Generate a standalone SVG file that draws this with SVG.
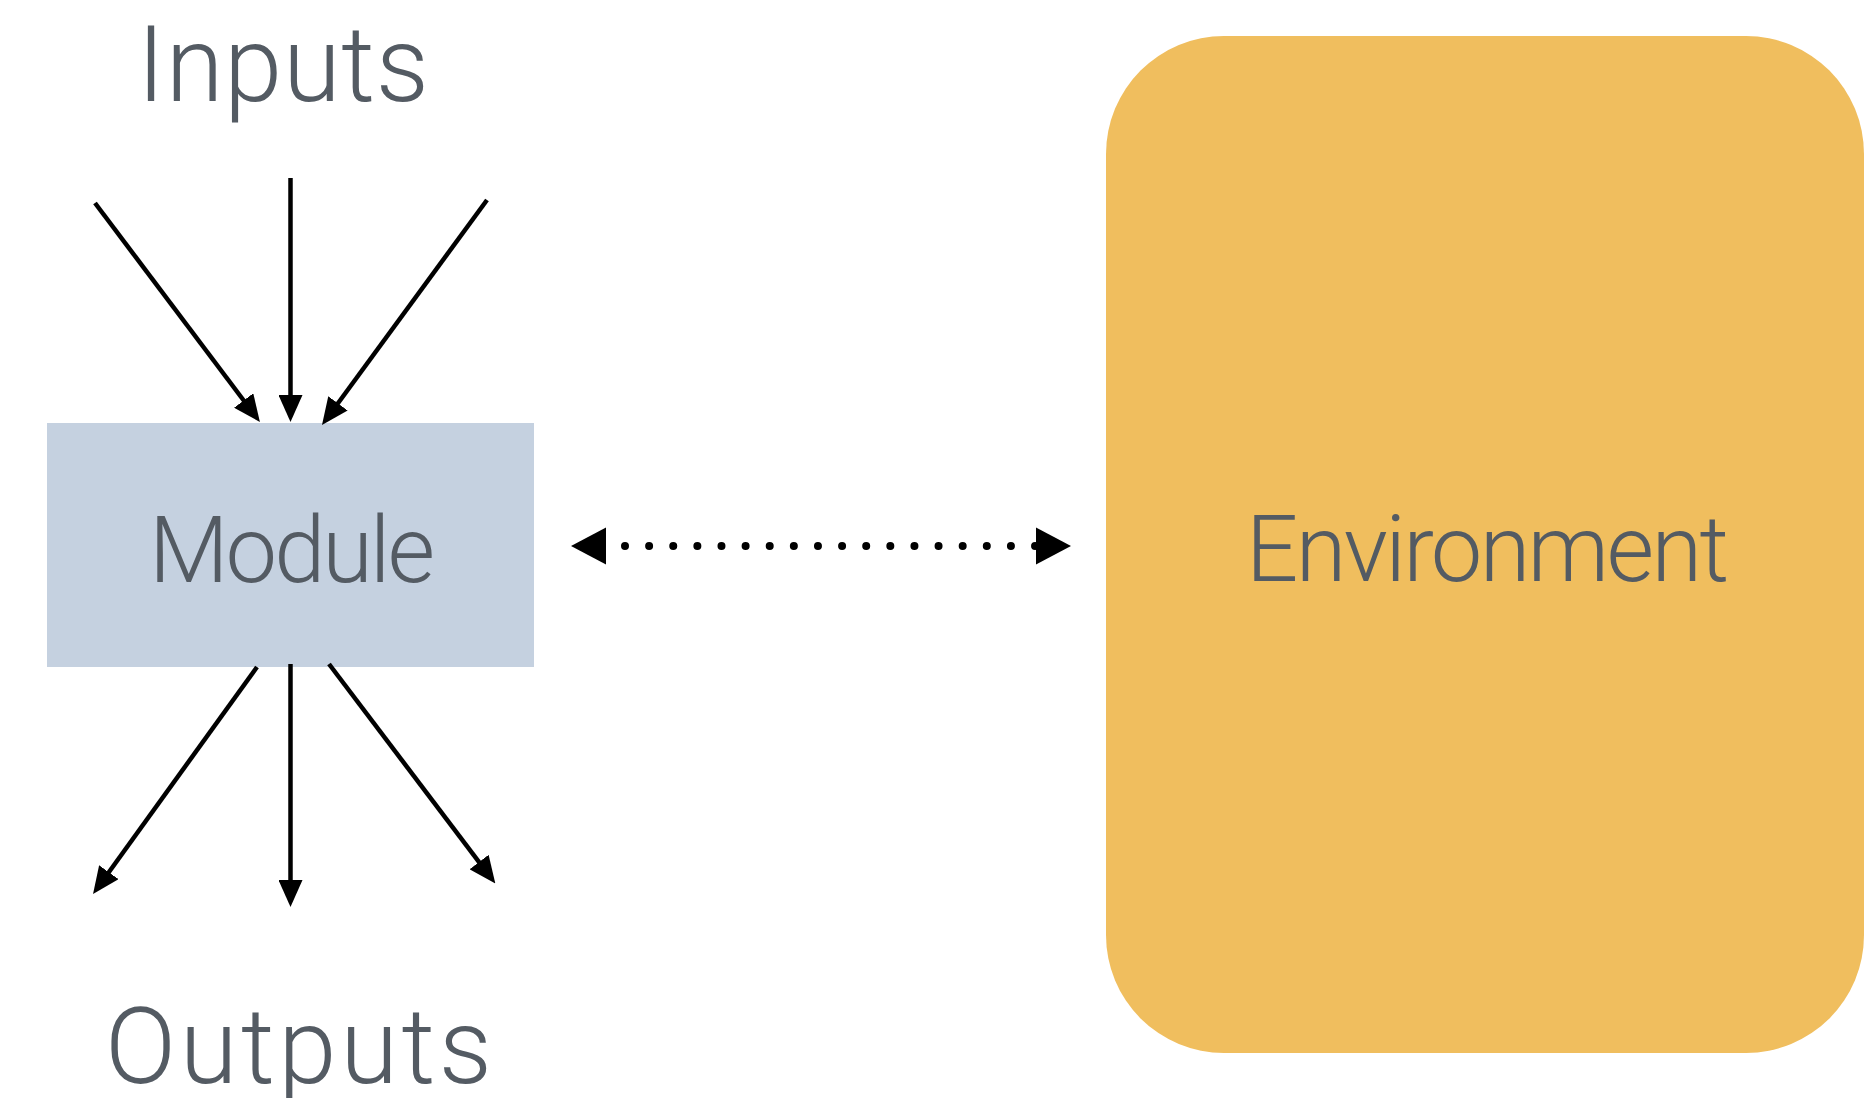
<svg xmlns="http://www.w3.org/2000/svg" width="1870" height="1098" viewBox="0 0 1870 1098">
  <style>
    .label { font-family: Roboto, "Liberation Sans", sans-serif; font-weight: 300; fill: #545B63; }
    .flow { stroke: #000; stroke-width: 4.5; fill: none; marker-end: url(#head); }
    .dots { stroke: #000; stroke-width: 8; stroke-linecap: round; stroke-dasharray: 0 24.12; fill: none; }
    .bighead { fill: #000; }
  </style>
  <defs>
    <marker id="head" markerUnits="userSpaceOnUse" markerWidth="27" markerHeight="24" refX="17" refY="12" orient="auto">
      <path d="M0,0 L27,12 L0,24 z" fill="#000"/>
    </marker>
  </defs>

  <rect width="1870" height="1098" fill="#fff"/>

  <text class="label" x="137" y="101" font-size="105" textLength="292" lengthAdjust="spacing">Inputs</text>
  <text class="label" x="105" y="1083" font-size="105" textLength="387" lengthAdjust="spacing">Outputs</text>

  <g id="module">
    <rect x="47" y="423" width="487" height="244" fill="#C5D1E0"/>
    <text class="label" x="149" y="582" font-size="92" textLength="286" lengthAdjust="spacing">Module</text>
  </g>

  <g id="environment">
    <rect x="1106" y="36" width="758" height="1017" rx="118" ry="118" fill="#F0BE5E"/>
    <text class="label" x="1246" y="581" font-size="92" textLength="483" lengthAdjust="spacing">Environment</text>
  </g>

  <g id="connectors">
    <!-- inputs into the module -->
    <line class="flow" x1="95" y1="203" x2="253.9" y2="414"/>
    <line class="flow" x1="290.5" y1="178" x2="290.5" y2="412"/>
    <line class="flow" x1="487" y1="200" x2="327.9" y2="417"/>
    <!-- outputs from the module -->
    <line class="flow" x1="257" y1="667" x2="98.9" y2="886"/>
    <line class="flow" x1="290.5" y1="664" x2="290.5" y2="897"/>
    <line class="flow" x1="329" y1="664" x2="489.3" y2="875.6"/>
    <!-- two-way exchange with the environment -->
    <line class="dots" x1="625" y1="546" x2="1036" y2="546"/>
    <polygon class="bighead" points="571,546 606,527.5 606,564.5"/>
    <polygon class="bighead" points="1071,546 1036,527.5 1036,564.5"/>
  </g>
</svg>
